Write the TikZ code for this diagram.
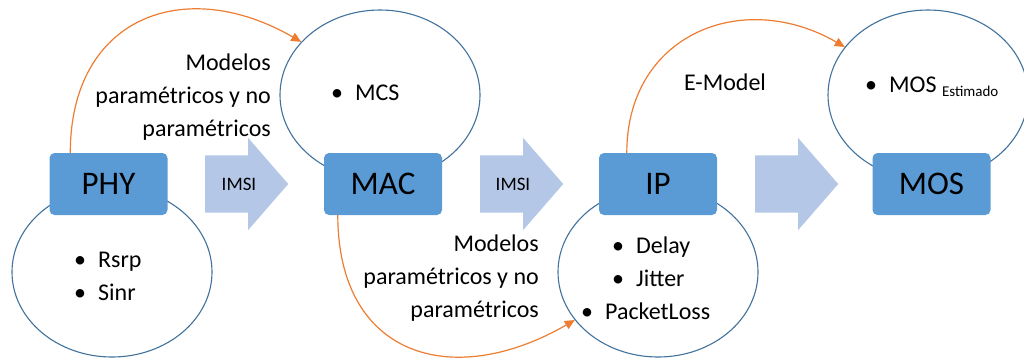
\documentclass[tikz,border=0pt]{standalone}
\usepackage{fontspec}
\setmainfont{Carlito}
\usetikzlibrary{shapes.geometric,shapes.arrows,arrows.meta}

\definecolor{boxblue}{HTML}{5B9BD5}
\definecolor{ringblue}{HTML}{41719C}
\definecolor{flowblue}{HTML}{B4C7E7}
\definecolor{linkorange}{HTML}{ED7D31}

\newcommand{\bul}{\textbullet\hspace{12pt}}

\begin{document}
\begin{tikzpicture}[x=1pt,y=-1pt,
  layer/.style={rectangle, rounded corners=5pt, fill=boxblue, minimum width=118pt,
    minimum height=62pt, inner sep=0pt, font=\fontsize{33}{36}\selectfont},
  ring/.style={ellipse, draw=ringblue, line width=1.1pt, minimum width=200pt,
    minimum height=170pt, inner sep=0pt},
  flow/.style={single arrow, fill=flowblue, minimum height=83pt, inner xsep=0pt,
    inner ysep=28.5pt, single arrow head extend=17.5pt, single arrow tip angle=98,
    anchor=tail},
  txt/.style={inner sep=0pt, font=\fontsize{24}{33}\selectfont},
  link/.style={draw=linkorange, line width=1.2pt, -{Triangle[length=10pt,width=9pt]}}]

\useasboundingbox (0,0) rectangle (1024,360);

% rings behind the layers
\node[ring] (phyring) at (112,272) {};
\node[ring] (macring) at (380,95) {};
\node[ring] (ipring) at (658,272) {};
\node[ring] (mosring) at (928,95) {};

% layers
\node[layer] (phy) at (108.5,184) {PHY};
\node[layer] (mac) at (383,184) {MAC};
\node[layer] (ip) at (658,184) {IP};
\node[layer] (mos) at (931.5,184) {MOS};

% block arrows
\node[flow] (flow1) at (205,184) {};
\node[flow] (flow2) at (480,184) {};
\node[flow] (flow3) at (755,184) {};
\node[font=\fontsize{19}{19}\selectfont] (imsi1) at (239,184) {IMSI};
\node[font=\fontsize{19}{19}\selectfont] (imsi2) at (513,184) {IMSI};

% contents of the rings (base = last line)
\node[txt, anchor=base west, align=left] (phylist) at (74,300) {\bul Rsrp\\\bul Sinr};
\node[txt, anchor=base west] (maclist) at (331,100) {\bul MCS};
\node[txt, anchor=base west, align=left] (iplist) at (581,319)
  {\hspace*{31pt}\bul Delay\\\hspace*{31pt}\bul Jitter\\\bul PacketLoss};
\node[txt, anchor=base west] (moslist) at (865,92)
  {\bul MOS \raisebox{-4pt}{\fontsize{15}{15}\selectfont Estimado}};

% model labels
\node[txt, anchor=base east, align=right] (phymac) at (271,136)
  {Modelos\\paramétricos y no\\paramétricos};
\node[txt, anchor=base east, align=right] (macip) at (539,317)
  {Modelos\\paramétricos y no\\paramétricos};
\node[txt, anchor=base] (emodel) at (725,90) {E-Model};

\draw[link] ([xshift=21pt]phy.north west) to[out=90,in=150,looseness=1.35] (macring.146);
\draw[link] ([xshift=14pt]mac.south west) to[out=-90,in=-150,looseness=1.4] (ipring.210);
\draw[link] ([xshift=28pt]ip.north west) to[out=90,in=150,looseness=1.25] (mosring.150);

\end{tikzpicture}
\end{document}
